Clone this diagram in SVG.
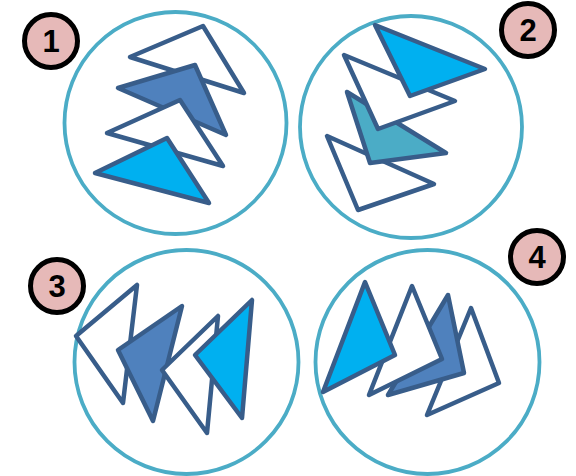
<svg xmlns="http://www.w3.org/2000/svg" width="576" height="476" viewBox="0 0 576 476">
<style>
.ring{fill:none;stroke:#4bacc6;stroke-width:3.8}
.tri{stroke:#385d8a;stroke-width:4.5;stroke-linejoin:round}
.w{fill:#ffffff}
.d{fill:#4f81bd}
.l{fill:#00b0f0}
.t{fill:#4bacc6}
.badge{fill:#e6b9b8;stroke:#000;stroke-width:5}
.num{font-family:"Liberation Sans",Arial,sans-serif;font-size:31px;font-weight:bold;fill:#000;text-anchor:middle}
</style>
<rect width="576" height="476" fill="#fff"/>
<g id="panel1">
<circle class="ring" cx="175.5" cy="123" r="111"/>
<polygon class="tri w" points="130,57 203,26 244,93"/>
<polygon class="tri d" points="118,88 195,65 226,135"/>
<polygon class="tri w" points="107,133 180,100 223,166"/>
<polygon class="tri l" points="95,173 167,138 209,203"/>
</g>
<g id="panel2">
<circle class="ring" cx="411" cy="127" r="111"/>
<polygon class="tri w" points="327,136 434,184 358,210"/>
<polygon class="tri t" points="347,92 446,153 370,163"/>
<polygon class="tri w" points="344,55 455,101 378,129"/>
<polygon class="tri l" points="375,25 485,69 410,96"/>
</g>
<g id="panel3">
<circle class="ring" cx="186.5" cy="362" r="112"/>
<polygon class="tri w" points="76,336 137,285 123,403"/>
<polygon class="tri d" points="118,350 182,306 153,421"/>
<polygon class="tri w" points="162,370 218,316 207,433"/>
<polygon class="tri l" points="195,355 252,300 242,418"/>
</g>
<g id="panel4">
<circle class="ring" cx="427.5" cy="362" r="112"/>
<polygon class="tri w" points="471,308 499,383 427,415"/>
<polygon class="tri d" points="448,295 464,373 388,395"/>
<polygon class="tri w" points="412,286 442,359 369,395"/>
<polygon class="tri l" points="365,282 395,355 323,392"/>
</g>
<g id="badge1"><circle class="badge" cx="51" cy="41" r="26.5"/><text class="num" x="51" y="52">1</text></g>
<g id="badge2"><circle class="badge" cx="528" cy="30" r="26.5"/><text class="num" x="528" y="41">2</text></g>
<g id="badge3"><circle class="badge" cx="57" cy="286" r="26.5"/><text class="num" x="57" y="297">3</text></g>
<g id="badge4"><circle class="badge" cx="537" cy="257" r="26.5"/><text class="num" x="537" y="268">4</text></g>
</svg>
